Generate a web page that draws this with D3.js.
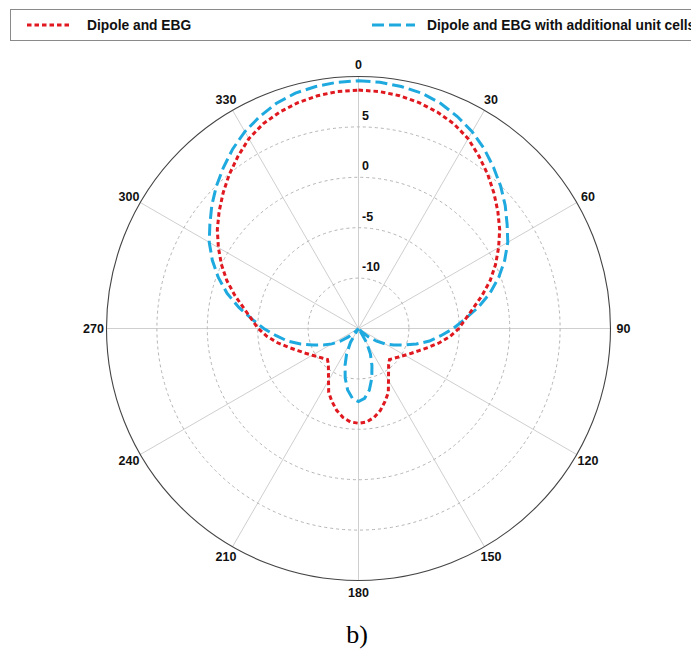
<!DOCTYPE html>
<html>
<head>
<meta charset="utf-8">
<script src="https://cdn.jsdelivr.net/npm/d3@7"></script>
<style>
  html, body { margin: 0; padding: 0; background: #fff; }
  svg { display: block; }
</style>
</head>
<body>
<svg id="chart" width="691" height="650"></svg>
<script>
// ---------- DATA ----------
const angles = [0,5,10,15,20,25,30,35,40,45,50,55,60,65,70,75,80,85,90,95,100,105,110,115,120,125,130,135,140,145,150,155,160,165,170,175,
  180,185,190,195,200,205,210,215,220,225,230,235,240,245,250,255,260,265,270,275,280,285,290,295,300,305,310,315,320,325,330,335,340,345,350,355];

const seriesNames = ["Dipole and EBG", "Dipole and EBG with additional unit cells"];

const dipoleEBG = [8.65,8.6,8.45,8.2,7.85,7.4,6.75,5.85,4.95,4.0,3.05,2.1,1.05,0.0,-1.1,-2.3,-3.45,-4.35,-5.05,-5.9,-6.85,-7.8,-8.6,-9.2,-9.7,-10.1,-10.4,-10.65,-10.35,-9.8,-9.05,-8.0,-7.3,-6.6,-6.05,-5.7,
  -5.6,-5.7,-6.05,-6.6,-7.3,-8.0,-9.05,-9.8,-10.35,-10.65,-10.4,-10.1,-9.7,-9.2,-8.6,-7.8,-6.85,-5.9,-5.05,-4.35,-3.45,-2.3,-1.1,0.0,1.05,2.1,3.05,4.0,4.95,5.85,6.75,7.4,7.85,8.2,8.45,8.6];

const dipoleEBGCells = [9.58,9.52,9.38,9.18,8.78,8.2,7.55,6.75,5.85,4.95,4.0,3.0,2.1,1.0,-0.2,-1.5,-2.95,-4.4,-5.6,-6.8,-7.85,-9.05,-10.2,-11.15,-11.95,-12.8,-13.7,-14.6,-16,-14.8,-13.4,-12.2,-11.1,-9.9,-8.8,-8.05,
  -7.75,-8.05,-8.8,-9.9,-11.1,-12.2,-13.4,-14.8,-16,-14.6,-13.7,-12.8,-11.95,-11.15,-10.2,-9.05,-7.85,-6.8,-5.6,-4.4,-2.95,-1.5,-0.2,1.0,2.1,3.0,4.0,4.95,5.85,6.75,7.55,8.2,8.78,9.18,9.38,9.52];

const radialTicks = [-10, -5, 0, 5];
const radialDomain = [-15, 10];
const angleTicks = [0, 30, 60, 90, 120, 150, 180, 210, 240, 270, 300, 330];
const caption = "b)";

// ---------- LAYOUT ----------
const cx = 358.5, cy = 328.5, R = 252;
const svg = d3.select("#chart");
const font = "'Liberation Sans', Arial, sans-serif";

const r = d3.scaleLinear().domain(radialDomain).range([0, R]).clamp(true);
const rad = d => d * Math.PI / 180;

const g = svg.append("g").attr("transform", `translate(${cx},${cy})`);

// spokes
g.selectAll("line.spoke").data(angleTicks).join("line")
  .attr("x1", 0).attr("y1", 0)
  .attr("x2", d => R * Math.sin(rad(d)))
  .attr("y2", d => -R * Math.cos(rad(d)))
  .attr("stroke", "#cfcfcf").attr("stroke-width", 1);

// rings
g.selectAll("circle.ring").data(radialTicks).join("circle")
  .attr("r", d => r(d))
  .attr("fill", "none").attr("stroke", "#b5b5b5")
  .attr("stroke-width", 1).attr("stroke-dasharray", "3,3");

// outer circle
g.append("circle").attr("r", r(radialDomain[1]))
  .attr("fill", "none").attr("stroke", "#444").attr("stroke-width", 1.1);

// angle labels
g.selectAll("text.ang").data(angleTicks).join("text")
  .attr("x", d => 265 * Math.sin(rad(d)))
  .attr("y", d => -264 * Math.cos(rad(d)))
  .attr("text-anchor", "middle").attr("dominant-baseline", "central")
  .attr("font-family", font).attr("font-weight", "bold").attr("font-size", 12.5)
  .attr("fill", "#111")
  .text(d => d);

// radial labels
g.selectAll("text.rt").data(radialTicks).join("text")
  .attr("x", 3.5)
  .attr("y", d => -r(d) - 7)
  .attr("font-family", font).attr("font-weight", "bold").attr("font-size", 12.5)
  .attr("fill", "#111")
  .text(d => d);

// series
const line = d3.lineRadial()
  .angle(d => rad(d[0]))
  .radius(d => r(d[1]))
  .curve(d3.curveLinearClosed);

const redData = angles.map((a, i) => [a, dipoleEBG[i]]);
const blueData = angles.map((a, i) => [a, dipoleEBGCells[i]]);

g.append("path").datum(blueData).attr("d", line)
  .attr("fill", "none").attr("stroke", "#1ea9df").attr("stroke-width", 3)
  .attr("stroke-dasharray", "12,5");

g.append("path").datum(redData).attr("d", line)
  .attr("fill", "none").attr("stroke", "#e0181f").attr("stroke-width", 3)
  .attr("stroke-dasharray", "4.5,3");

// legend
const leg = svg.append("g");
leg.append("rect").attr("x", 10.5).attr("y", 9.5).attr("width", 760).attr("height", 31)
  .attr("fill", "#fff").attr("stroke", "#8a8a8a").attr("stroke-width", 1);
leg.append("line").attr("x1", 27).attr("x2", 71).attr("y1", 25).attr("y2", 25)
  .attr("stroke", "#e0181f").attr("stroke-width", 3).attr("stroke-dasharray", "4.5,3");
leg.append("text").attr("x", 87).attr("y", 25).attr("dominant-baseline", "central")
  .attr("font-family", font).attr("font-weight", "bold").attr("font-size", 13.8)
  .attr("fill", "#111").text(seriesNames[0]);
leg.append("line").attr("x1", 372).attr("x2", 415).attr("y1", 25).attr("y2", 25)
  .attr("stroke", "#1ea9df").attr("stroke-width", 3).attr("stroke-dasharray", "12,5");
leg.append("text").attr("x", 427).attr("y", 25).attr("dominant-baseline", "central")
  .attr("font-family", font).attr("font-weight", "bold").attr("font-size", 13.8)
  .attr("fill", "#111").text(seriesNames[1]);

// caption
svg.append("text").attr("x", 357).attr("y", 643).attr("text-anchor", "middle")
  .attr("font-family", "'Liberation Serif', 'Times New Roman', serif").attr("font-size", 26)
  .attr("fill", "#000").text(caption);
</script>
</body>
</html>
